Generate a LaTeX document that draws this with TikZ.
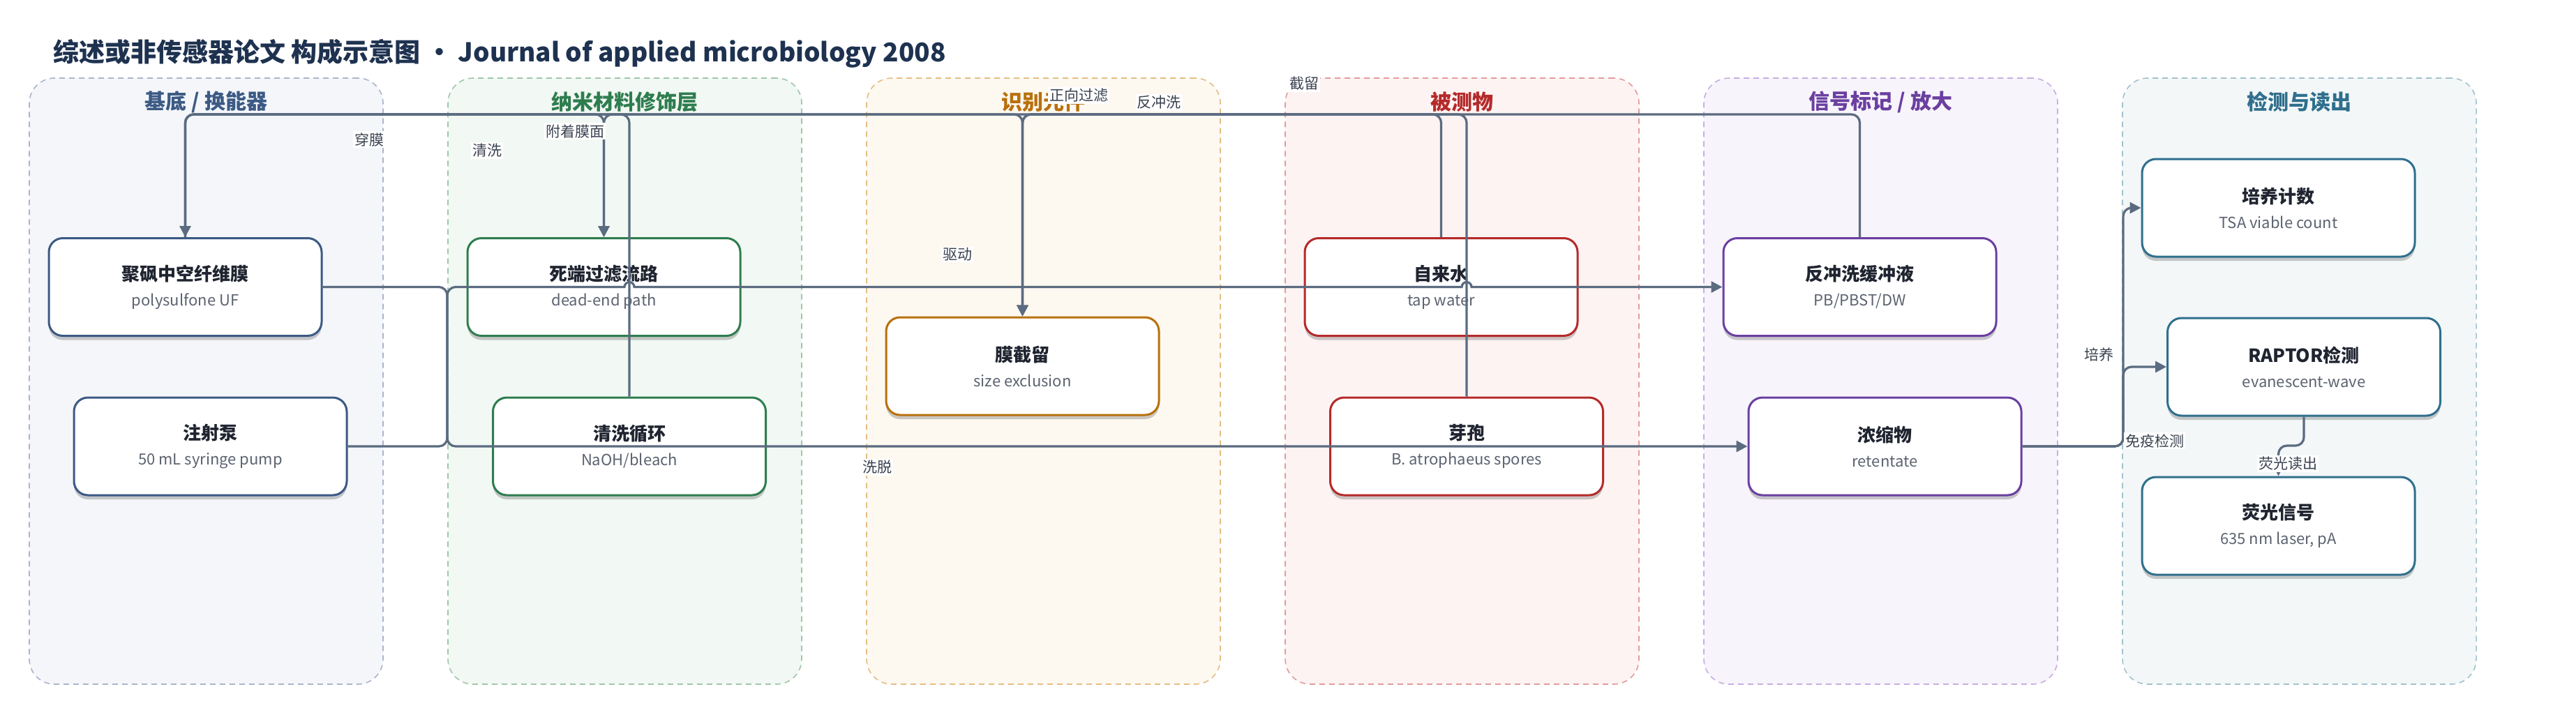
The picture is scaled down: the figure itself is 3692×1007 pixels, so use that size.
\documentclass[tikz,border=0pt]{standalone}
\usepackage{fontspec}
\setmainfont{Noto Sans CJK SC}
\usetikzlibrary{arrows.meta,shadows}

\definecolor{titleink}{HTML}{1E3250}
\definecolor{wire}{HTML}{5B6B80}
\definecolor{lblink}{HTML}{3A4250}
\definecolor{boxink}{HTML}{1F2430}
\definecolor{subink}{HTML}{5C6370}

\definecolor{subC}{HTML}{3C5A84}
\definecolor{subF}{HTML}{F4F6FA}
\definecolor{subL}{HTML}{A9B5CA}
\definecolor{nanoC}{HTML}{2E7D4F}
\definecolor{nanoF}{HTML}{F2F8F3}
\definecolor{nanoL}{HTML}{9FC7A9}
\definecolor{recC}{HTML}{B8700D}
\definecolor{recF}{HTML}{FDF8F0}
\definecolor{recL}{HTML}{E3BE82}
\definecolor{anaC}{HTML}{B52A2A}
\definecolor{anaF}{HTML}{FDF3F2}
\definecolor{anaL}{HTML}{E39C9C}
\definecolor{sigC}{HTML}{6A3FA0}
\definecolor{sigF}{HTML}{F7F4FB}
\definecolor{sigL}{HTML}{C7AEE0}
\definecolor{detC}{HTML}{2F6F8D}
\definecolor{detF}{HTML}{F3F7F8}
\definecolor{detL}{HTML}{A2C2CD}

\newcommand{\boxtext}[2]{{\fontsize{13}{15}\selectfont\bfseries #1}\\[6pt]{\fontsize{11}{13}\selectfont\color{subink}#2}}

\begin{document}
\begin{tikzpicture}[x=0.5pt,y=-0.5pt,
  lane/.style={draw=#1L,fill=#1F,line width=0.8pt,dash pattern=on 4pt off 3pt,rounded corners=18pt,minimum width=253.5pt,minimum height=434.5pt,inner sep=0pt},
  lanetitle/.style={text=#1C,font=\fontsize{15}{18}\selectfont\bfseries,inner sep=0pt},
  blk/.style={draw=#1C,fill=white,line width=1.5pt,rounded corners=10pt,minimum width=195.5pt,minimum height=70pt,align=center,text=boxink,drop shadow={shadow xshift=0pt,shadow yshift=-3pt,opacity=0.2,fill=black}},
  flow/.style={draw=wire,line width=1.6pt,rounded corners=6pt,-{Triangle[length=8pt,width=8pt]}},
  elabel/.style={fill=white,text=lblink,inner sep=1pt,font=\fontsize{10.5}{12}\selectfont}]
\fill[white] (0,0) rectangle (3692,1007);
\useasboundingbox (0,0) rectangle (3692,1007);

\node[anchor=west,text=titleink,font=\fontsize{18.5}{22}\selectfont\bfseries,inner sep=0pt] (title) at (76,77) {综述或非传感器论文 构成示意图 • Journal of applied microbiology 2008};

% lanes
\node[lane=sub] (lsub) at (295.5,546.5) {};
\node[lane=nano] (lnano) at (895.5,546.5) {};
\node[lane=rec] (lrec) at (1495.5,546.5) {};
\node[lane=ana] (lana) at (2095.5,546.5) {};
\node[lane=sig] (lsig) at (2695.5,546.5) {};
\node[lane=det] (ldet) at (3295.5,546.5) {};
\node[lanetitle=sub] (tsub) at (295.5,146) {基底 / 换能器};
\node[lanetitle=nano] (tnano) at (895.5,146) {纳米材料修饰层};
\node[lanetitle=rec] (trec) at (1495.5,146) {识别元件};
\node[lanetitle=ana] (tana) at (2095.5,146) {被测物};
\node[lanetitle=sig] (tsig) at (2695.5,146) {信号标记 / 放大};
\node[lanetitle=det] (tdet) at (3295.5,146) {检测与读出};

% boxes
\node[blk=sub] (psf) at (265.5,411.5) {\boxtext{聚砜中空纤维膜}{polysulfone UF}};
\node[blk=sub] (pump) at (301.5,640) {\boxtext{注射泵}{50 mL syringe pump}};
\node[blk=nano] (dead) at (865.5,411.5) {\boxtext{死端过滤流路}{dead-end path}};
\node[blk=nano] (wash) at (902,640) {\boxtext{清洗循环}{NaOH/bleach}};
\node[blk=rec] (ret) at (1465.5,525) {\boxtext{膜截留}{size exclusion}};
\node[blk=ana] (tap) at (2065.5,411.5) {\boxtext{自来水}{tap water}};
\node[blk=ana] (spore) at (2102,640) {\boxtext{芽孢}{B. atrophaeus spores}};
\node[blk=sig] (buf) at (2665.5,411.5) {\boxtext{反冲洗缓冲液}{PB/PBST/DW}};
\node[blk=sig] (conc) at (2701.5,640) {\boxtext{浓缩物}{retentate}};
\node[blk=det] (cult) at (3265.5,298) {\boxtext{培养计数}{TSA viable count}};
\node[blk=det] (rap) at (3302,526) {\boxtext{RAPTOR检测}{evanescent-wave}};
\node[blk=det] (fluo) at (3265.5,754) {\boxtext{荧光信号}{635 nm laser, pA}};

% buses
\coordinate (top) at (0,164);
\coordinate (bus) at (641,0);
\coordinate (rbus) at (3043,0);
\coordinate (jog) at (0,639);

% connectors
\draw[flow] (psf.north) |- (dead.north |- top) -- (dead.north);
\draw[flow] (wash.north) |- (dead.north |- top) -- (dead.north);
\draw[flow] (buf.north) |- (psf.north |- top) -- (psf.north);
\draw[flow] (tap.north) |- (ret.north |- top) -- (ret.north);
\draw[flow] (spore.north) |- (ret.north |- top) -- (ret.north);
\draw[flow] (psf.north) |- (ret.north |- top) -- (ret.north);
\draw[flow] (pump.east) -| (buf.west -| bus) -- (870,411.5) [sharp corners] -- (895,411.5)
  arc[start angle=180,end angle=360,radius=7] -- (2095,411.5)
  arc[start angle=180,end angle=360,radius=7] -- (buf.west);
\draw[flow] (psf.east) -| (conc.west -| bus) -- (conc.west);
\draw[flow] (conc.east) -- (conc.east -| rbus) |- (cult.west);
\draw[flow] (conc.east) -- (conc.east -| rbus) |- (rap.west);
\draw[flow] (rap.south) -- (rap.south |- jog) -| (fluo.north);

% labels
\node[elabel] (lpass) at (529,200) {穿膜};
\node[elabel] (lattach) at (824,188) {附着膜面};
\node[elabel] (lwash) at (698,216) {清洗};
\node[elabel] (lfwd) at (1546,137) {正向过滤};
\node[elabel] (lback) at (1661,147) {反冲洗};
\node[elabel] (lretain) at (1869,120) {截留};
\node[elabel] (ldrive) at (1372,365) {驱动};
\node[elabel] (lelute) at (1257,670) {洗脱};
\node[elabel] (lculture) at (3008,508) {培养};
\node[elabel] (limmuno) at (3088,632) {免疫检测};
\node[elabel] (lread) at (3279,665) {荧光读出};
\end{tikzpicture}
\end{document}
